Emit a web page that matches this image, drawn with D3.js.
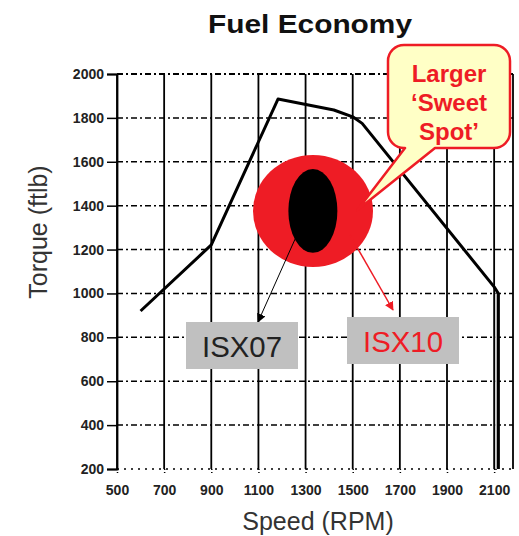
<!DOCTYPE html>
<html>
<head>
<meta charset="utf-8">
<script src="https://cdn.jsdelivr.net/npm/d3@7"></script>
<style>
  body { margin: 0; background: #fff; }
  text { font-family: "Liberation Sans", Arial, sans-serif; }
</style>
</head>
<body>
<div id="vis"></div>
<script>
const layout = {
    width: 519,
    height: 536,
    left: 117,
    right: 513,
    top: 74,
    bottom: 469
};

// data
const speedTicks = [500, 700, 900, 1100, 1300, 1500, 1700, 1900, 2100];
const torqueTicks = [200, 400, 600, 800, 1000, 1200, 1400, 1600, 1800, 2000];
const curveSpeed = [600, 900, 1183, 1420, 1500, 1540, 2100, 2118, 2118];
const curveTorque = [920, 1221, 1886, 1836, 1805, 1775, 1030, 1000, 200];
const spotNames = ["ISX10", "ISX07"];
const spotSpeedMin = [1077, 1227];
const spotSpeedMax = [1586, 1435];
const spotTorqueMin = [1121, 1185];
const spotTorqueMax = [1631, 1567];
const spotColors = ["#ee1c25", "#000000"];

let svg = d3.select("#vis").append("svg")
    .attr("width", layout.width)
    .attr("height", layout.height);

let xScale = d3.scaleLinear().domain([500, 2180]).range([layout.left, layout.right]);
let yScale = d3.scaleLinear().domain([200, 2000]).range([layout.bottom, layout.top]);

// title
svg.append("text")
    .attr("x", 310).attr("y", 33)
    .attr("text-anchor", "middle")
    .attr("font-size", 25).attr("font-weight", "bold")
    .attr("textLength", 204).attr("lengthAdjust", "spacingAndGlyphs")
    .attr("fill", "#111")
    .text("Fuel Economy");

// horizontal dash-dot grid
svg.append("g").selectAll("line").data(torqueTicks).join("line")
    .attr("x1", layout.left).attr("x2", layout.right)
    .attr("y1", d => yScale(d)).attr("y2", d => yScale(d))
    .attr("stroke", "#000")
    .attr("stroke-width", d => d === 2000 ? 2 : 1.5)
    .attr("stroke-dasharray", d => d === 200 ? "2,5" : "6,3,2,3");

// vertical solid grid
svg.append("g").selectAll("line").data(speedTicks).join("line")
    .attr("x1", d => xScale(d)).attr("x2", d => xScale(d))
    .attr("y1", layout.top).attr("y2", layout.bottom)
    .attr("stroke", "#000").attr("stroke-width", 1.8);

// right border
svg.append("line")
    .attr("x1", layout.right).attr("x2", layout.right)
    .attr("y1", layout.top).attr("y2", layout.bottom)
    .attr("stroke", "#000").attr("stroke-width", 1.8);

// y axis
let yAxis = svg.append("g")
    .attr("transform", `translate(${layout.left},0)`)
    .call(d3.axisLeft(yScale).tickValues(torqueTicks).tickSize(10).tickPadding(3).tickFormat(d3.format("d")));
yAxis.select(".domain").attr("stroke", "#000").attr("stroke-width", 1.8);
yAxis.selectAll("line").attr("stroke", "#000").attr("stroke-width", 1.5);
yAxis.selectAll("text")
    .attr("font-size", 14).attr("font-weight", "bold").attr("fill", "#222")
    .attr("font-family", "Liberation Sans, Arial, sans-serif");

// x axis
let xAxis = svg.append("g")
    .attr("transform", `translate(0,${layout.bottom})`)
    .call(d3.axisBottom(xScale).tickValues(speedTicks).tickSize(4).tickPadding(12).tickFormat(d3.format("d")));
xAxis.select(".domain").remove();
xAxis.selectAll("line").attr("stroke", "#000").attr("stroke-width", 1.5).attr("stroke-dasharray", "1,2");
xAxis.selectAll("text")
    .attr("font-size", 14).attr("font-weight", "bold").attr("fill", "#222")
    .attr("font-family", "Liberation Sans, Arial, sans-serif");

// axis titles
svg.append("text")
    .attr("x", 318).attr("y", 530)
    .attr("text-anchor", "middle")
    .attr("font-size", 25).attr("fill", "#333")
    .text("Speed (RPM)");
svg.append("text")
    .attr("transform", "translate(47,232) rotate(-90)")
    .attr("text-anchor", "middle")
    .attr("font-size", 25).attr("fill", "#333")
    .text("Torque (ftlb)");

// grey band between 2100 grid and the cut-off line
svg.append("rect")
    .attr("x", xScale(2100) + 1).attr("y", yScale(1000))
    .attr("width", xScale(2118) - xScale(2100) - 2)
    .attr("height", yScale(200) - yScale(1000))
    .attr("fill", "#c8c8c8");

// torque curve
let curve = d3.zip(curveSpeed, curveTorque);
svg.append("path")
    .datum(curve)
    .attr("fill", "none")
    .attr("stroke", "#000")
    .attr("stroke-width", 3)
    .attr("stroke-linejoin", "round")
    .attr("d", d3.line().x(d => xScale(d[0])).y(d => yScale(d[1])));

// sweet spots
svg.append("g").selectAll("ellipse").data(spotNames).join("ellipse")
    .attr("cx", (d, i) => xScale((spotSpeedMin[i] + spotSpeedMax[i]) / 2))
    .attr("cy", (d, i) => yScale((spotTorqueMin[i] + spotTorqueMax[i]) / 2))
    .attr("rx", (d, i) => (xScale(spotSpeedMax[i]) - xScale(spotSpeedMin[i])) / 2)
    .attr("ry", (d, i) => (yScale(spotTorqueMin[i]) - yScale(spotTorqueMax[i])) / 2)
    .attr("fill", (d, i) => spotColors[i]);

// arrow markers
let defs = svg.append("defs");
[["arrowBlack", "#000"], ["arrowRed", "#ee1c25"]].forEach(m => {
    defs.append("marker")
        .attr("id", m[0])
        .attr("viewBox", "0 0 10 10")
        .attr("refX", 9).attr("refY", 5)
        .attr("markerWidth", 9).attr("markerHeight", 9)
        .attr("markerUnits", "userSpaceOnUse")
        .attr("orient", "auto")
        .append("path")
        .attr("d", "M0,0 L10,5 L0,10 Z")
        .attr("fill", m[1]);
});

svg.append("line")
    .attr("x1", 296).attr("y1", 237)
    .attr("x2", 258).attr("y2", 322)
    .attr("stroke", "#000").attr("stroke-width", 1)
    .attr("marker-end", "url(#arrowBlack)");
svg.append("line")
    .attr("x1", 350).attr("y1", 235)
    .attr("x2", 393).attr("y2", 310)
    .attr("stroke", "#ee1c25").attr("stroke-width", 1.5)
    .attr("marker-end", "url(#arrowRed)");

// labels
function labelBox(x, y, w, h, name, color) {
    svg.append("rect")
        .attr("x", x).attr("y", y).attr("width", w).attr("height", h)
        .attr("fill", "#c0c0c0");
    svg.append("text")
        .attr("x", x + w / 2).attr("y", y + 35)
        .attr("text-anchor", "middle")
        .attr("font-size", 30).attr("fill", color)
        .attr("textLength", 80).attr("lengthAdjust", "spacingAndGlyphs")
        .text(name);
}
labelBox(186, 322, 112, 47, "ISX07", "#222");
labelBox(347, 317, 112, 47, "ISX10", "#ee1c25");

// callout
let bx0 = 388, bx1 = 510, by0 = 45, by1 = 148, r = 16;
let tipX = xScale(1520), tipY = yScale(1380);
let p = d3.path();
p.moveTo(bx0 + r, by0);
p.lineTo(bx1 - r, by0);
p.arcTo(bx1, by0, bx1, by0 + r, r);
p.lineTo(bx1, by1 - r);
p.arcTo(bx1, by1, bx1 - r, by1, r);
p.lineTo(435, by1);
p.lineTo(tipX, tipY);
p.lineTo(405, by1);
p.lineTo(bx0 + r, by1);
p.arcTo(bx0, by1, bx0, by1 - r, r);
p.lineTo(bx0, by0 + r);
p.arcTo(bx0, by0, bx0 + r, by0, r);
p.closePath();
svg.append("path")
    .attr("d", p.toString())
    .attr("fill", "#ffffc6")
    .attr("stroke", "#ee1c25")
    .attr("stroke-width", 2.5)
    .attr("stroke-linejoin", "round");

const calloutLines = ["Larger", "\u2018Sweet", "Spot\u2019"];
svg.append("g").selectAll("text").data(calloutLines).join("text")
    .attr("x", 449)
    .attr("y", (d, i) => 82 + i * 29)
    .attr("text-anchor", "middle")
    .attr("font-size", 24).attr("font-weight", "bold")
    .attr("fill", "#ee1c25")
    .text(d => d);
</script>
</body>
</html>
